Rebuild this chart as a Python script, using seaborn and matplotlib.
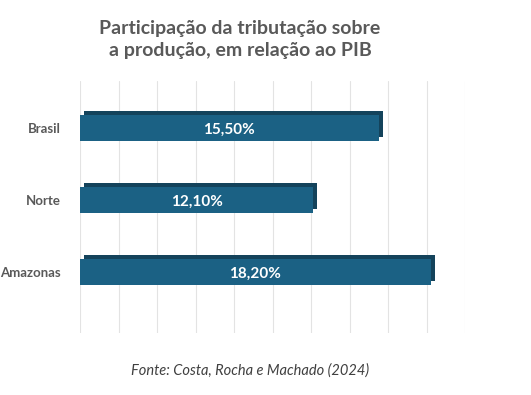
import pandas as pd
import matplotlib
matplotlib.use('Agg')
import matplotlib.pyplot as plt
import matplotlib.patheffects as pe
import seaborn as sns

# Data
regioes = ['Brasil', 'Norte', 'Amazonas']
participacao = [15.5, 12.1, 18.2]
rotulos = ['15,50%', '12,10%', '18,20%']

df = pd.DataFrame({'Região': regioes, 'Participação': participacao})

sns.set_style("white")
plt.rcParams['font.family'] = ['Lato', 'DejaVu Sans']

fig = plt.figure(figsize=(5.31, 3.95), dpi=100)
ax = fig.add_axes([0.151, 0.157, 0.725, 0.638])

sns.barplot(data=df, y='Região', x='Participação', orient='h',
            color='#1B6184', saturation=1, width=0.36, linewidth=0,
            edgecolor='none', ax=ax)

# fake a little depth like the original 3D bars
for bar in ax.patches:
    bar.set_path_effects([pe.SimplePatchShadow(offset=(3, 3), shadow_rgbFace='#14435B', alpha=1),
                          pe.Normal()])

for bar, txt in zip(ax.patches, rotulos):
    ax.text(bar.get_x() + bar.get_width() / 2, bar.get_y() + bar.get_height() / 2 + 0.03, txt,
            ha='center', va='center', color='white', fontsize=11, fontweight='bold')

ax.set_xlim(0, 20)
ax.set_ylim(2.85, -0.65)
ax.set_xticks(range(0, 21, 2))
ax.set_xticklabels([])
ax.grid(axis='x', color='#E3E3E3', linewidth=0.8)
ax.set_axisbelow(True)
for s in ax.spines.values():
    s.set_visible(False)
ax.set_xlabel('')
ax.set_ylabel('')
ax.tick_params(axis='y', length=0, pad=14)
for lbl in ax.get_yticklabels():
    lbl.set_fontsize(9.5)
    lbl.set_fontweight('bold')
    lbl.set_color('#595959')

fig.text(0.452, 0.9, 'Participação da tributação sobre\na produção, em relação ao PIB',
         ha='center', va='center', fontsize=14, fontweight='bold', color='#595959',
         linespacing=1.35)
fig.text(0.47, 0.063, 'Fonte: Costa, Rocha e Machado (2024)', ha='center', va='center',
         fontsize=10.5, style='italic', color='#404040')

plt.savefig('out.png', dpi=100, facecolor='white')
